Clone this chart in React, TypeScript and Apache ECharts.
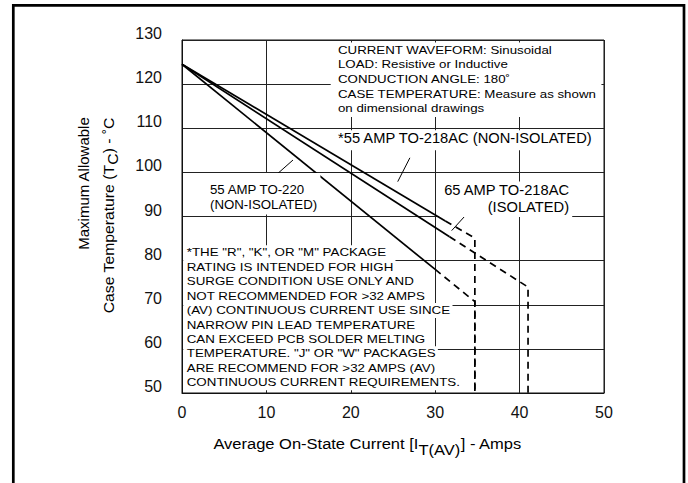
import React, { useEffect, useRef } from "react";
import * as echarts from "echarts";

const FONT = "'Liberation Sans', Arial, Helvetica, sans-serif";

// axis ranges / ticks
const xMin = 0, xMax = 50, xStep = 10;
const yMin = 50, yMax = 130, yStep = 10;

// *55 AMP TO-218AC (NON-ISOLATED) – upper curve
const to218NonIsoSolid = [[0, 124.5], [31.2, 89.0]];
const to218NonIsoDashed = [[31.2, 89.0], [34.7, 85.1], [34.7, 50]];
// 65 AMP TO-218AC (ISOLATED) – middle curve
const to218IsoSolid = [[0, 124.5], [31.7, 85.4]];
const to218IsoDashed = [[31.7, 85.4], [41.0, 74.0], [41.0, 50]];
// 55 AMP TO-220 (NON-ISOLATED) – lower curve
const to220Solid = [[0, 124.5], [30.0, 78.0]];
const to220Dashed = [[30.0, 78.0], [34.7, 70.7], [34.7, 50]];

// leader lines (data coordinates)
const leaderTo220 = [[11.26, 99.6], [13.15, 102.8]];
const leaderTo218NonIso = [[25.56, 97.9], [27.0, 103.3]];
const leaderTo218Iso = [[31.95, 86.8], [35.07, 93.35]];

const conditionLines = [
  "CURRENT WAVEFORM: Sinusoidal",
  "LOAD: Resistive or Inductive",
  "CONDUCTION ANGLE: 180\u02DA",
  "CASE TEMPERATURE: Measure as shown",
  "on dimensional drawings",
];

const noteLines = [
  '*THE "R", "K", OR "M" PACKAGE',
  "RATING IS INTENDED FOR HIGH",
  "SURGE CONDITION USE ONLY AND",
  "NOT RECOMMENDED FOR >32 AMPS",
  "(AV) CONTINUOUS CURRENT USE SINCE",
  "NARROW PIN LEAD TEMPERATURE",
  "CAN EXCEED PCB SOLDER MELTING",
  'TEMPERATURE. "J" OR "W" PACKAGES',
  "ARE RECOMMEND FOR >32 AMPS (AV)",
  "CONTINUOUS CURRENT REQUIREMENTS.",
];

const labelTo220 = ["55 AMP TO-220", "(NON-ISOLATED)"];
const labelTo218NonIso = "*55 AMP TO-218AC (NON-ISOLATED)";
const labelTo218Iso = ["65 AMP TO-218AC", "(ISOLATED)"];

function line(data: number[][], dashed: boolean, width = 1.7) {
  return {
    type: "line",
    data,
    symbol: "none",
    silent: true,
    z: 3,
    lineStyle: { color: "#000", width, type: dashed ? [7, 5] : "solid" },
  };
}

export default function App() {
  const ref = useRef<HTMLDivElement>(null);
  useEffect(() => {
    const chart = echarts.init(ref.current!, null, { renderer: "svg" });
    const textBase = { fill: "#000", fontFamily: FONT };
    const noteGraphics = noteLines.map((t, i) => ({
      type: "text",
      x: 183.3,
      y: 252.7 + i * 14.44,
      scaleX: 1.15,
      z: 10,
      style: {
        ...textBase,
        text: t,
        fontSize: 11.6,
        lineHeight: 15,
        align: "left",
        verticalAlign: "middle",
        backgroundColor: "#fff",
        padding: [0, 2, 0, 3],
      },
    }));
    const labelStyle = {
      color: "#111",
      fontSize: 16,
      fontFamily: FONT,
    };
    const option: any = {
      animation: false,
      backgroundColor: "#fff",
      grid: {
        left: 182,
        right: 84,
        top: 40,
        bottom: 90,
        show: true,
        borderColor: "#111",
        borderWidth: 1,
        containLabel: false,
      },
      xAxis: {
        type: "value",
        min: xMin,
        max: xMax,
        interval: xStep,
        axisLine: { show: true, lineStyle: { color: "#111", width: 1 } },
        axisTick: { show: false },
        splitLine: { show: true, lineStyle: { color: "#222", width: 1 } },
        axisLabel: { ...labelStyle, margin: 11 },
      },
      yAxis: {
        type: "value",
        min: yMin,
        max: yMax,
        interval: yStep,
        axisLine: { show: true, lineStyle: { color: "#111", width: 1 } },
        axisTick: { show: false },
        splitLine: { show: true, lineStyle: { color: "#222", width: 1 } },
        axisLabel: {
          ...labelStyle,
          margin: 20,
          formatter: (v: number) => "{a|" + v + "}",
          rich: { a: { ...labelStyle, padding: [0, 0, 13, 0] } },
        },
      },
      series: [
        line(to218NonIsoSolid, false),
        line(to218NonIsoDashed, true),
        line(to218IsoSolid, false),
        line(to218IsoDashed, true),
        line(to220Solid, false),
        line(to220Dashed, true),
        line(leaderTo220, false, 1),
        line(leaderTo218NonIso, false, 1),
        line(leaderTo218Iso, false, 1),
      ],
      graphic: [
        {
          type: "rect",
          z: 20,
          shape: { x: 13.3, y: 5.3, width: 670.7, height: 520 },
          style: { fill: "none", stroke: "#000", lineWidth: 2.7 },
        },
        {
          type: "text",
          x: 330.7,
          y: 42.6,
          scaleX: 1.21,
          z: 10,
          style: {
            ...textBase,
            text: conditionLines.join("\n"),
            fontSize: 11,
            lineHeight: 14.7,
            align: "left",
            verticalAlign: "top",
            backgroundColor: "#fff",
            padding: [0, 4, 1, 6],
          },
        },
        {
          type: "text",
          x: 334.9,
          y: 130.3,
          scaleX: 1.05,
          z: 10,
          style: {
            ...textBase,
            text: labelTo218NonIso,
            fontSize: 14,
            lineHeight: 16,
            align: "left",
            verticalAlign: "top",
            backgroundColor: "#fff",
            padding: [0, 3, 4, 3],
          },
        },
        {
          type: "text",
          x: 206.8,
          y: 173,
          scaleX: 1.06,
          z: 10,
          style: {
            ...textBase,
            text: labelTo220.join("\n"),
            fontSize: 12.5,
            lineHeight: 15,
            align: "left",
            verticalAlign: "top",
            backgroundColor: "#fff",
            padding: [9.5, 3, 2, 3],
          },
        },
        {
          type: "text",
          x: 572.2,
          y: 181.6,
          scaleX: 1.05,
          z: 10,
          style: {
            ...textBase,
            text: labelTo218Iso.join("\n"),
            fontSize: 14,
            lineHeight: 16.7,
            align: "right",
            verticalAlign: "top",
            backgroundColor: "#fff",
            padding: [0, 3, 2, 3],
          },
        },
        ...noteGraphics,
        {
          type: "text",
          x: 83.3,
          y: 183.5,
          rotation: Math.PI / 2,
          z: 10,
          style: {
            ...textBase,
            text: "Maximum Allowable",
            fontSize: 15,
            align: "center",
            verticalAlign: "middle",
          },
        },
        {
          type: "text",
          x: 108.3,
          y: 215.5,
          rotation: Math.PI / 2,
          scaleX: 1.05,
          z: 10,
          style: {
            ...textBase,
            text: "{n|Case Temperature (T}{s|C}{n|) - \u02DAC}",
            fontSize: 15,
            align: "center",
            verticalAlign: "middle",
            rich: {
              n: { fontSize: 15, fontFamily: FONT, fill: "#000" },
              s: { fontSize: 15, fontFamily: FONT, fill: "#000", padding: [9, 0, 0, 0] },
            },
          },
        },
        {
          type: "text",
          x: 367.5,
          y: 443.3,
          scaleX: 1.1,
          z: 10,
          style: {
            ...textBase,
            text: "{n|Average On-State Current [I}{s|T(AV)}{n|] - Amps}",
            fontSize: 15,
            align: "center",
            verticalAlign: "middle",
            rich: {
              n: { fontSize: 15, fontFamily: FONT, fill: "#000" },
              s: { fontSize: 15, fontFamily: FONT, fill: "#000", padding: [13, 0, 0, 0] },
            },
          },
        },
      ],
    };
    chart.setOption(option);
    return () => chart.dispose();
  }, []);
  return (
    <div
      ref={ref}
      style={{ position: "fixed", left: 0, top: 0, width: 688, height: 483, background: "#fff" }}
    />
  );
}
